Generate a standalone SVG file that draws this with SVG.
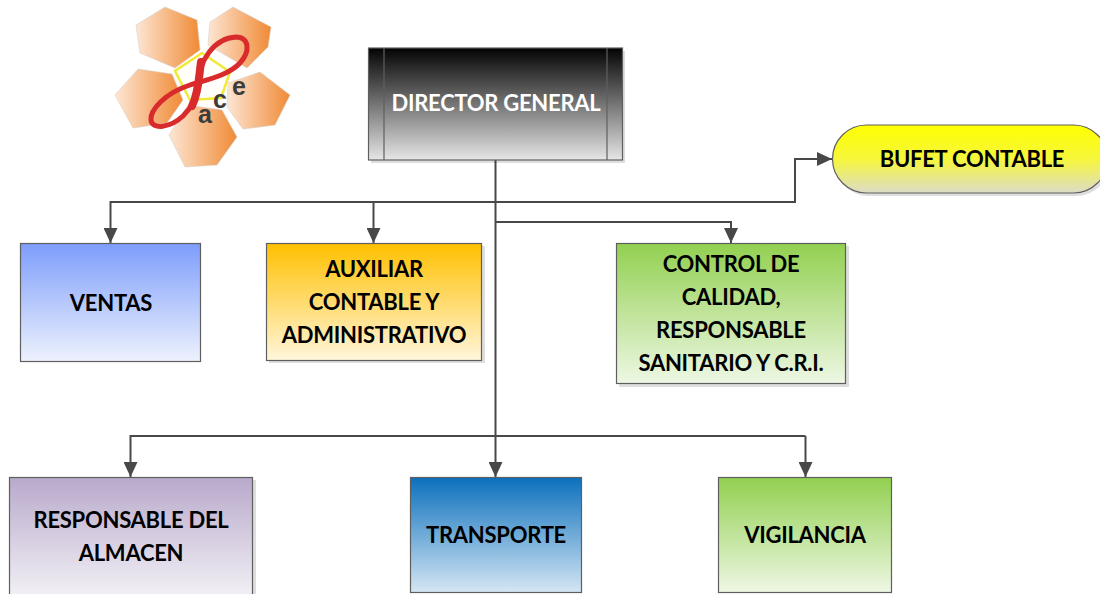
<svg xmlns="http://www.w3.org/2000/svg" width="1100" height="594" viewBox="0 0 1100 594">
<style>
.n{stroke:#5f5f5f;stroke-width:1.2}
.s{fill:#000;opacity:.13}
.t{font-family:Lato,"Liberation Sans",sans-serif;font-weight:700;font-size:22px;letter-spacing:-.27px;fill:#000;text-anchor:middle}
.c{fill:none;stroke:#484848;stroke-width:2}
.h{fill:url(#hex);stroke:#d8d0c8;stroke-width:.6}
.l{font-family:"Liberation Sans",sans-serif;font-weight:700;font-size:25px;fill:#3c3c3c;text-anchor:middle}
.r{fill:none;stroke:#d92b2b;stroke-linejoin:round;stroke-linecap:round}
</style>
<defs>
<linearGradient id="hex" x1="0" x2="1" y1="0" y2="0"><stop offset="0" stop-color="#fde6d4"/><stop offset="1" stop-color="#f08a35"/></linearGradient>
<linearGradient id="gd" x1="0" x2="0" y1="0" y2="1"><stop offset="0" stop-color="#030303"/><stop offset="1" stop-color="#e6e6e6"/></linearGradient>
<linearGradient id="gb" x1="0" x2="0" y1="0" y2="1"><stop offset="0" stop-color="#ffff00"/><stop offset=".5" stop-color="#f6f63c"/><stop offset="1" stop-color="#dcdcc8"/></linearGradient>
<linearGradient id="gv" x1="0" x2="0" y1="0" y2="1"><stop offset="0" stop-color="#7d9dfb"/><stop offset="1" stop-color="#eef2fd"/></linearGradient>
<linearGradient id="ga" x1="0" x2="0" y1="0" y2="1"><stop offset="0" stop-color="#ffc000"/><stop offset="1" stop-color="#fff6dc"/></linearGradient>
<linearGradient id="gg" x1="0" x2="0" y1="0" y2="1"><stop offset="0" stop-color="#92d050"/><stop offset="1" stop-color="#eef7e4"/></linearGradient>
<linearGradient id="gp" x1="0" x2="0" y1="0" y2="1"><stop offset="0" stop-color="#b8a9cb"/><stop offset="1" stop-color="#f3f1f6"/></linearGradient>
<linearGradient id="gt" x1="0" x2="0" y1="0" y2="1"><stop offset="0" stop-color="#0b70bd"/><stop offset="1" stop-color="#d5e6f3"/></linearGradient>
<marker id="ah" viewBox="0 0 15 14" refX="15" refY="7" markerWidth="15" markerHeight="14" markerUnits="userSpaceOnUse" orient="auto"><path d="M0 0L15 7L0 14z" fill="#484848"/></marker>
</defs>

<g id="logo">
<polygon class="h" points="165,7 197,20 200,50 175,68 140,53 136,25"/>
<polygon class="h" points="233,7 271,27 268,47 247,68 208,45 210,22"/>
<polygon class="h" points="138,69 172,74 183,100 167,123 133,128 115,95"/>
<polygon class="h" points="260,72 290,95 275,125 243,129 227,107 228,83"/>
<polygon class="h" points="188,105 222,110 237,137 217,165 185,167 169,135"/>
<polygon points="202,53 230,72 221,98 190,100 175,71" fill="#fffdf5" fill-opacity=".55" stroke="#f2ea3a" stroke-width="2.6"/>
<path class="r" stroke-width="5" d="M199,85C198,60 215,38 236,37C250,37 250,52 240,63C228,76 205,80 190,85C165,93 150,110 151,120C152,130 170,128 183,116C194,105 198,95 199,85Z"/>
<path class="r" stroke-width="8" d="M201,62C199,75 199,92 192,106"/>
<text class="l" x="205" y="123">a</text>
<text class="l" x="220" y="108">c</text>
<text class="l" x="239" y="95">e</text>
</g>

<g id="connectors">
<path class="c" d="M495.500 160V477" marker-end="url(#ah)"/>
<path class="c" d="M495.500 202H110.500V243" marker-end="url(#ah)"/>
<path class="c" d="M373.500 202V243" marker-end="url(#ah)"/>
<path class="c" d="M495.500 202H795V159H832" marker-end="url(#ah)"/>
<path class="c" d="M495.500 222H731V243" marker-end="url(#ah)"/>
<path class="c" d="M805.500 436H130.500V477" marker-end="url(#ah)"/>
<path class="c" d="M805.500 436V477" marker-end="url(#ah)"/>
</g>

<g id="director">
<rect class="s" x="371" y="51" width="254" height="112"/>
<rect class="n" x="368.500" y="48" width="254" height="112" fill="url(#gd)"/>
<path class="n" d="M384 48V160M607 48V160" fill="none"/>
<text class="t" x="496" y="111" style="fill:#fff">DIRECTOR GENERAL</text>
</g>
<g id="bufet">
<rect class="s" x="835" y="128" width="275" height="68" rx="34"/>
<rect class="n" x="832.500" y="125" width="275" height="68" rx="34" fill="url(#gb)"/>
<text class="t" x="972" y="167">BUFET CONTABLE</text>
</g>
<g id="ventas">
<rect class="n" x="20.500" y="243.500" width="180" height="118" fill="url(#gv)"/>
<text class="t" x="111" y="311">VENTAS</text>
</g>
<g id="auxiliar">
<rect class="s" x="269" y="246" width="216" height="117"/>
<rect class="n" x="266.500" y="243.500" width="215" height="117" fill="url(#ga)"/>
<text class="t" x="374" y="277">AUXILIAR</text>
<text class="t" x="374" y="310">CONTABLE Y</text>
<text class="t" x="374" y="343">ADMINISTRATIVO</text>
</g>
<g id="control">
<rect class="s" x="619" y="246" width="230" height="141"/>
<rect class="n" x="616.500" y="243.500" width="229" height="140" fill="url(#gg)"/>
<text class="t" x="731" y="272">CONTROL DE</text>
<text class="t" x="731" y="305">CALIDAD,</text>
<text class="t" x="731" y="338">RESPONSABLE</text>
<text class="t" x="731" y="371">SANITARIO Y C.R.I.</text>
</g>
<g id="almacen">
<rect class="s" x="12" y="480" width="244" height="118"/>
<rect class="n" x="9.500" y="477.500" width="243" height="120" fill="url(#gp)"/>
<text class="t" x="131" y="528">RESPONSABLE DEL</text>
<text class="t" x="131" y="561">ALMACEN</text>
</g>
<g id="transporte">
<rect class="n" x="410.500" y="477.500" width="171" height="115" fill="url(#gt)"/>
<text class="t" x="496" y="543">TRANSPORTE</text>
</g>
<g id="vigilancia">
<rect class="n" x="718.500" y="477.500" width="173" height="115" fill="url(#gg)"/>
<text class="t" x="805" y="543">VIGILANCIA</text>
</g>
</svg>
